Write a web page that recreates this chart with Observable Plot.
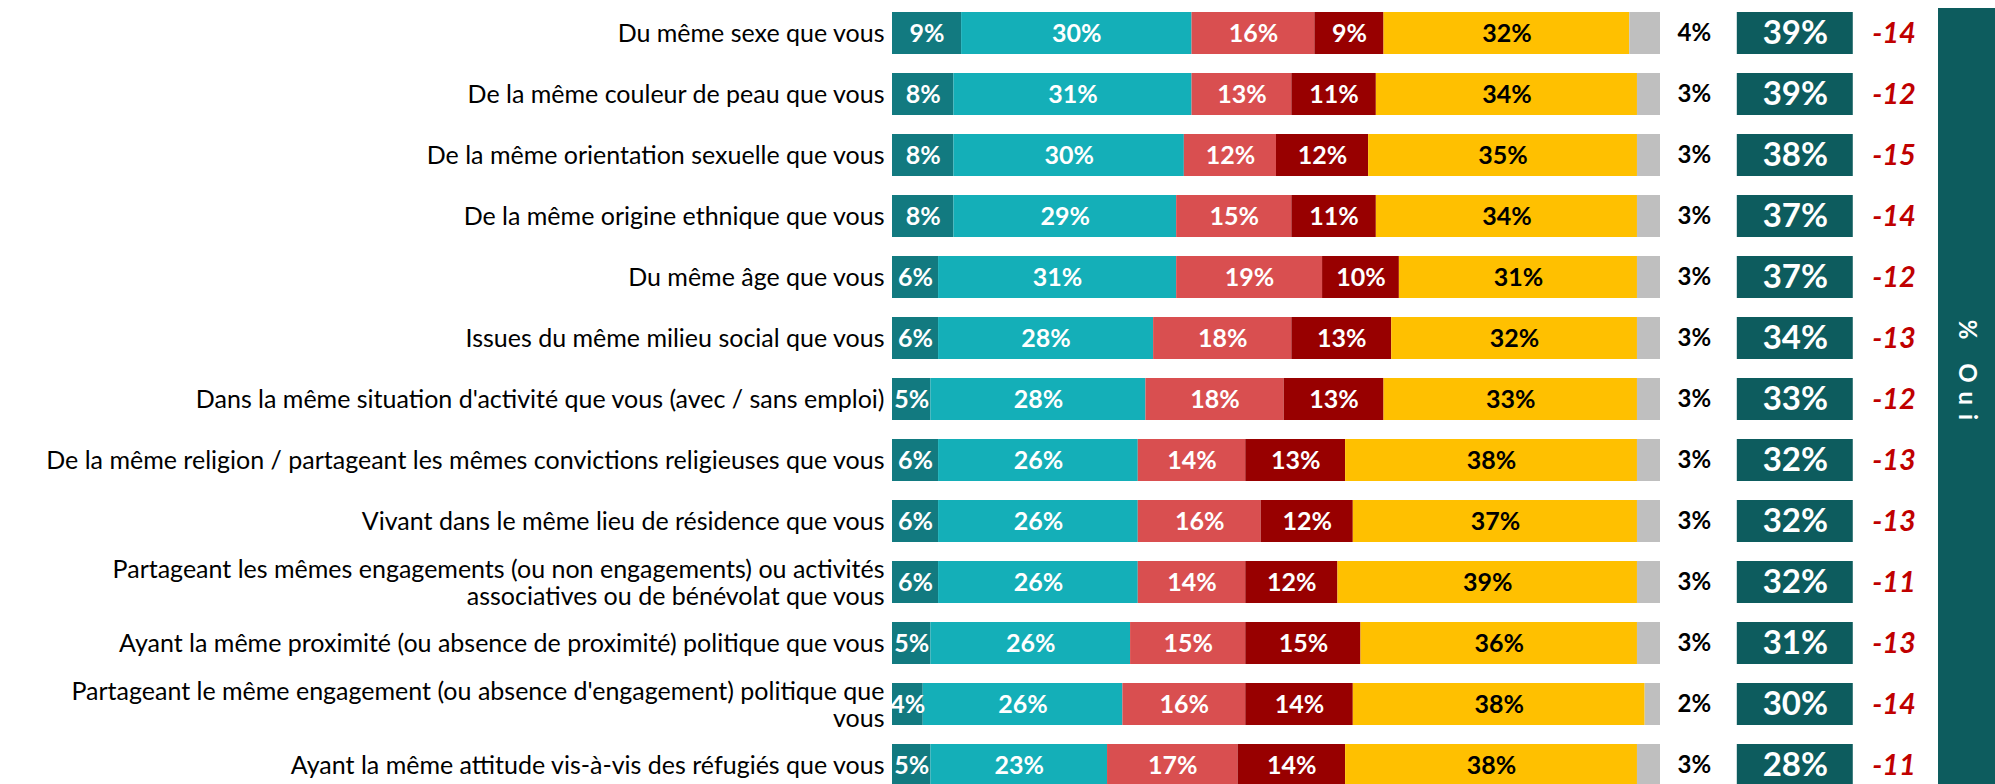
<!DOCTYPE html>
<html>
<head>
<meta charset="utf-8">
<script src="https://cdn.jsdelivr.net/npm/d3@7"></script>
<script src="https://cdn.jsdelivr.net/npm/@observablehq/plot@0.6"></script>
<style>
  html, body { margin: 0; padding: 0; background: #ffffff; }
  svg { display: block; }
</style>
</head>
<body>
<div id="chart"></div>
<script>
// ---- data ----
const questions = [
  "Du même sexe que vous",
  "De la même couleur de peau que vous",
  "De la même orientation sexuelle que vous",
  "De la même origine ethnique que vous",
  "Du même âge que vous",
  "Issues du même milieu social que vous",
  "Dans la même situation d'activité que vous (avec / sans emploi)",
  "De la même religion / partageant les mêmes convictions religieuses que vous",
  "Vivant dans le même lieu de résidence que vous",
  "Partageant les mêmes engagements (ou non engagements) ou activités\nassociatives ou de bénévolat que vous",
  "Ayant la même proximité (ou absence de proximité) politique que vous",
  "Partageant le même engagement (ou absence d'engagement) politique que\nvous",
  "Ayant la même attitude vis-à-vis des réfugiés que vous"
];
const seg1 = [9, 8, 8, 8, 6, 6, 5, 6, 6, 6, 5, 4, 5];          // dark teal
const seg2 = [30, 31, 30, 29, 31, 28, 28, 26, 26, 26, 26, 26, 23]; // teal
const seg3 = [16, 13, 12, 15, 19, 18, 18, 14, 16, 14, 15, 16, 17]; // red
const seg4 = [9, 11, 12, 11, 10, 13, 13, 13, 12, 12, 15, 14, 14];  // dark red
const seg5 = [32, 34, 35, 34, 31, 32, 33, 38, 37, 39, 36, 38, 38]; // yellow
const seg6 = [4, 3, 3, 3, 3, 3, 3, 3, 3, 3, 3, 2, 3];             // gray
const oui  = [39, 39, 38, 37, 37, 34, 33, 32, 32, 32, 31, 30, 28];
const diff = [-14, -12, -15, -14, -12, -13, -12, -13, -13, -11, -13, -14, -11];
const panelLabel = "% Oui";

const segKeys = ["s1", "s2", "s3", "s4", "s5", "s6"];
const segColors = ["#127a80", "#14afb8", "#d94f50", "#980000", "#ffc000", "#bfbfbf"];
const segSeries = [seg1, seg2, seg3, seg4, seg5, seg6];

// ---- layout (in x-scale units, % of the bar) ----
const col = { gray: 104.4, ouiX1: 110.0, ouiX2: 125.1, diff: 130.4, panelX1: 136.2, panelX2: 150, panelText: 139.9 };

const long = [];
questions.forEach((q, i) => {
  segKeys.forEach((k, j) => long.push({ q, cat: k, v: segSeries[j][i] }));
});
const rows = questions.map((q, i) => ({ q, gray: seg6[i], oui: oui[i], diff: diff[i] }));

const font = "Lato, 'Open Sans', sans-serif";
const whiteCats = new Set(["s1", "s2", "s3", "s4"]);

const chart = Plot.plot({
  width: 1995,
  height: 784,
  margin: 0,
  style: { fontFamily: font, background: "white", overflow: "visible" },
  x: { domain: [0, 100], range: [892, 1660], axis: null },
  y: { domain: questions, range: [0, 798], paddingInner: 0.316, paddingOuter: 0.158, axis: null },
  color: { domain: segKeys, range: segColors },
  marks: [
    Plot.barX(long, Plot.stackX({ x: "v", y: "q", fill: "cat", order: null })),
    Plot.text(long, Plot.stackX({
      x: "v", y: "q", z: "cat", order: null,
      text: d => whiteCats.has(d.cat) ? d.v + "%" : null,
      fill: "white", fontWeight: "bold", fontSize: 25
    })),
    Plot.text(long, Plot.stackX({
      x: "v", y: "q", z: "cat", order: null,
      text: d => d.cat === "s5" ? d.v + "%" : null,
      fill: "black", fontWeight: "bold", fontSize: 25
    })),
    // question labels
    Plot.text(rows, {
      x: 0, y: "q", text: "q", textAnchor: "end", dx: -8,
      fill: "black", fontSize: 25, lineHeight: 1.1
    }),
    // gray value labels
    Plot.text(rows, {
      x: col.gray, y: "q", text: d => d.gray + "%", fill: "black",
      fontWeight: "bold", fontSize: 24
    }),
    // oui boxes
    Plot.barX(rows, { x1: col.ouiX1, x2: col.ouiX2, y: "q", fill: "#0d5c5e" }),
    Plot.text(rows, {
      x: (col.ouiX1 + col.ouiX2) / 2, y: "q", text: d => d.oui + "%",
      fill: "white", fontWeight: "bold", fontSize: 33
    }),
    // differences
    Plot.text(rows, {
      x: col.diff, y: "q", text: d => String(d.diff), fill: "#c00000",
      fontWeight: "bold", fontStyle: "italic", fontSize: 29
    }),
    // side panel
    Plot.rect([panelLabel], { x1: col.panelX1, x2: col.panelX2, fill: "#0d5c5e", insetTop: 8 }),
    Plot.text([panelLabel], {
      x: col.panelText, text: d => d, rotate: 90, frameAnchor: "middle",
      dy: -18, fill: "white", fontWeight: "bold", fontSize: 24
    })
  ]
});
// letter spacing for the rotated panel label
d3.select(chart).selectAll("text").filter(function () { return this.textContent === panelLabel; })
  .style("letter-spacing", "9px");
document.getElementById("chart").appendChild(chart);
</script>
</body>
</html>
